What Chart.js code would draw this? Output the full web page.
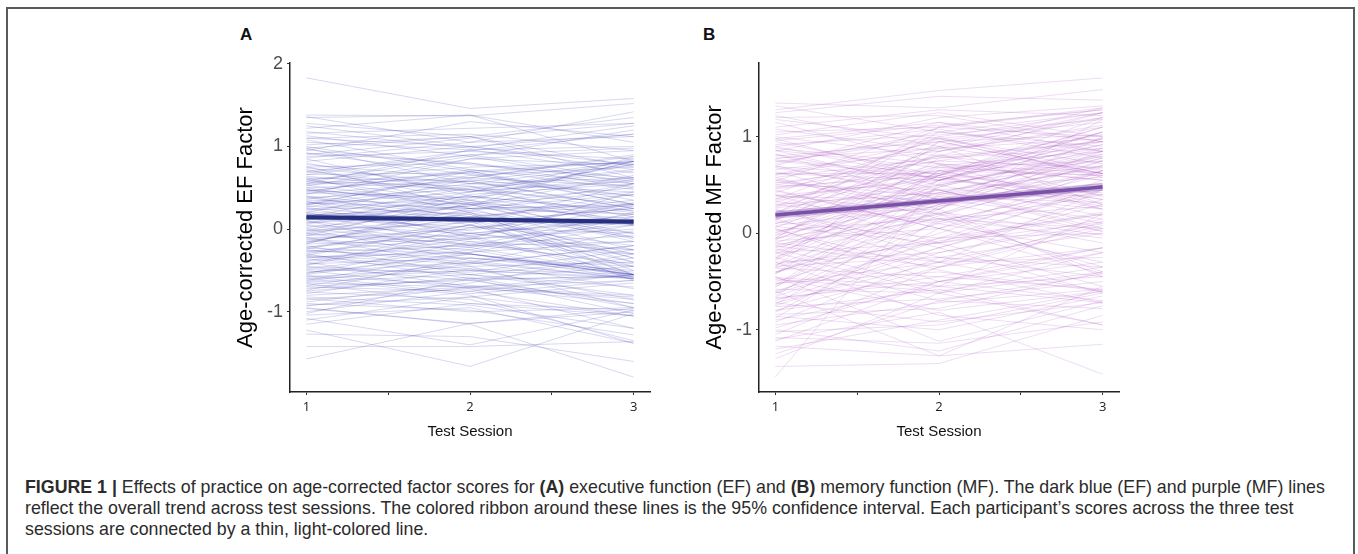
<!DOCTYPE html>
<html>
<head>
<meta charset="utf-8">
<script src="https://cdn.jsdelivr.net/npm/chart.js@4.4.0/dist/chart.umd.min.js"></script>
<style>
  html, body { margin: 0; padding: 0; background: #fff; }
  #page { position: relative; width: 1358px; height: 554px; overflow: hidden; font-family: "Liberation Sans", Arial, sans-serif; }
  #frame { position: absolute; left: 6px; top: 7px; width: 1349px; height: 620px; border: 2px solid #5a5a5a; box-sizing: border-box; }
  .letter { position: absolute; top: 26px; font-weight: bold; font-size: 17px; line-height: 17px; color: #111; }
  .box { position: absolute; top: 55px; width: 435px; height: 400px; }
  .cap { position: absolute; left: 25px; white-space: nowrap; font-size: 17.8px; line-height: 24px; color: #2b2b2b; }
</style>
</head>
<body>
<div id="page">
  <div id="frame"></div>
  <div class="letter" style="left:240px">A</div>
  <div class="letter" style="left:703px">B</div>
  <div class="box" style="left:225px"><canvas id="chartEF"></canvas></div>
  <div class="box" style="left:694px"><canvas id="chartMF"></canvas></div>
  <div class="cap" style="top:475px"><b>FIGURE 1 |</b> Effects of practice on age-corrected factor scores for <b>(A)</b> executive function (EF) and <b>(B)</b> memory function (MF). The dark blue (EF) and purple (MF) lines</div>
  <div class="cap" style="top:496px">reflect the overall trend across test sessions. The colored ribbon around these lines is the 95% confidence interval. Each participant’s scores across the three test</div>
  <div class="cap" style="top:517px">sessions are connected by a thin, light-colored line.</div>
</div>
<script>
const sessions = [1, 2, 3];
const xTickLabels = ['1', '2', '3'];
const efYTicks = [-1, 0, 1, 2];
const mfYTicks = [-1, 0, 1];

// overall trend and 95% ribbon, sessions 1-3
const efTrend = [0.145, 0.117, 0.09];
const efLower = [0.11, 0.09, 0.06];
const efUpper = [0.18, 0.145, 0.12];
const mfTrend = [0.19, 0.335, 0.48];
const mfLower = [0.15, 0.305, 0.44];
const mfUpper = [0.23, 0.365, 0.52];

// each participant: [session 1, session 2, session 3]
const efScores = [
  [1.83, 1.46, 1.58], [1.38, 1.37, 1.52], [1.36, 1.05, 1.42], [1.35, 1.38, 0.82], [1.28, 1.12, 1.35],
  [1.16, 1.22, 1.28], [1.13, 0.88, 1.2], [1.10, 1.15, 0.95], [1.08, 0.72, 0.55], [1.05, 0.96, 1.0],
  [1.02, 1.12, 0.62], [0.98, 0.55, 0.78], [0.95, 1.3, 1.12], [0.92, 0.66, 0.4], [0.88, 0.94, 0.85],
  [0.85, 0.4, 0.22], [0.82, 1.0, 0.72], [0.78, 0.62, 0.88], [0.75, 0.8, 0.5], [0.72, 0.35, -0.1],
  [0.7, 0.9, 0.98], [0.66, 0.68, 0.3], [0.64, 0.46, 0.58], [0.62, 0.2, -0.35], [0.6, 0.75, 0.8],
  [0.58, 0.52, 0.05], [0.55, 0.96, 0.68], [0.53, 0.3, 0.45], [0.5, 0.58, 0.82], [0.48, 0.12, -0.55],
  [0.46, 0.7, 0.35], [0.44, 0.38, 0.6], [0.42, 0.85, 0.78], [0.4, 0.05, -0.2], [0.38, 0.48, 0.15],
  [0.36, 0.62, 0.52], [0.34, -0.1, -0.58], [0.32, 0.25, 0.28], [0.3, 0.45, 0.85], [0.28, 0.18, -0.4],
  [0.27, 0.52, 0.22], [0.25, -0.05, 0.1], [0.23, 0.32, 0.5], [0.21, 0.1, -0.62], [0.2, 0.6, 0.4],
  [0.18, -0.2, -0.3], [0.16, 0.28, 0.65], [0.14, 0.02, -0.05], [0.12, 0.4, 0.2], [0.1, -0.3, -0.55],
  [0.08, 0.15, 0.35], [0.06, 0.35, 0.08], [0.04, -0.15, -0.45], [0.02, 0.22, 0.55], [0.0, -0.38, -0.6],
  [-0.02, 0.08, 0.25], [-0.04, 0.3, -0.12], [-0.06, -0.22, 0.1], [-0.08, 0.12, -0.35], [-0.1, -0.45, -0.95],
  [-0.12, 0.0, 0.3], [-0.14, -0.3, -0.6], [-0.16, 0.2, -0.1], [-0.18, -0.12, 0.45], [-0.2, -0.55, -0.8],
  [-0.22, -0.05, -0.25], [-0.24, 0.1, 0.05], [-0.26, -0.35, -0.55], [-0.28, -0.2, 0.2], [-0.3, -0.6, -1.02],
  [-0.32, 0.05, -0.4], [-0.34, -0.28, -0.15], [-0.36, -0.5, -0.58], [-0.38, -0.12, 0.0], [-0.4, -0.7, -0.9],
  [-0.42, -0.35, -0.5], [-0.44, -0.05, -0.3], [-0.46, -0.62, -0.56], [-0.48, -0.25, 0.15], [-0.5, -0.72, -1.2],
  [-0.52, -0.4, -0.6], [-0.54, -0.15, -0.25], [-0.56, -0.68, -0.85], [-0.58, -0.45, -0.4], [-0.6, -0.8, -1.38],
  [-0.62, -0.3, -0.55], [-0.64, -0.55, -0.7], [-0.66, -0.9, -0.98], [-0.68, -0.42, -0.2], [-0.7, -0.75, -1.05],
  [-0.72, -0.6, -0.58], [-0.74, -0.35, -0.45], [-0.76, -0.85, -1.35], [-0.8, -0.7, -0.62], [-0.84, -1.0, -0.95],
  [-0.88, -0.65, -0.3], [-0.92, -0.82, -1.05], [-0.96, -1.14, -1.0], [-1.0, -0.75, -0.55], [-1.04, -0.95, -1.38],
  [-1.08, -1.4, -0.98], [-1.1, -0.82, -0.65], [-1.22, -1.66, -1.02], [-1.27, -1.3, -1.6], [-1.42, -1.42, -1.36],
  [-1.57, -1.14, -0.96], [-0.95, -1.15, -1.79], [-0.9, -0.98, -1.28], [1.1, 1.0, 0.78], [0.96, 0.78, 0.62],
  [0.68, 0.95, 1.15], [0.57, 0.48, 0.7], [0.45, 0.72, 0.48], [0.35, 0.3, 0.12], [0.26, 0.08, 0.25],
  [0.15, 0.5, 0.72], [0.05, -0.05, 0.12], [-0.05, -0.18, -0.42], [-0.15, 0.15, 0.3], [-0.25, -0.4, -0.72],
  [-0.35, -0.18, -0.08], [-0.45, -0.55, -0.35], [-0.55, -0.28, 0.05], [-0.65, -0.7, -0.55], [0.62, 0.58, 0.25],
  [0.52, 0.85, 0.95], [0.4, 0.22, -0.05], [0.3, 0.55, 0.62], [0.17, 0.25, -0.25], [0.1, -0.12, 0.05],
  [-0.02, 0.42, 0.55], [-0.12, -0.25, -0.58], [-0.22, 0.05, -0.45], [-0.32, -0.42, -0.2], [1.22, 1.38, 1.05],
  [1.0, 0.7, 0.82], [0.8, 0.45, 0.78], [0.55, 0.68, 0.82], [0.48, 0.3, -0.15], [0.2, -0.08, -0.55],
  [-0.6, -0.5, -0.6], [-0.75, -0.58, -0.95], [-0.85, -0.72, -0.82], [-1.15, -0.9, -1.05], [0.7, 0.48, 0.3],
  [0.33, 0.12, 0.42], [-0.08, 0.38, 0.82], [-0.3, 0.05, 0.55], [1.18, 0.98, 1.25], [0.9, 1.1, 1.28],
  [0.92, 0.8, 0.58], [0.86, 1.05, 1.12], [0.74, 0.55, 0.45], [0.66, 0.9, 0.6], [0.6, 0.32, 0.18],
  [0.54, 0.62, 0.9], [0.5, 0.25, 0.3], [0.43, 0.58, 0.25], [0.38, 0.15, -0.3], [0.31, 0.65, 0.75],
  [0.24, 0.4, 0.05], [0.19, -0.02, 0.32], [0.13, 0.2, -0.5], [0.07, 0.45, 0.62], [0.01, -0.2, -0.15],
  [-0.05, 0.18, -0.55], [-0.1, -0.08, 0.18], [-0.17, 0.25, 0.42], [-0.23, -0.3, -0.52], [-0.27, -0.1, 0.28],
  [-0.33, -0.48, -0.85], [-0.39, -0.22, -0.55], [-0.43, 0.02, 0.15], [-0.49, -0.52, -0.25], [-0.53, -0.3, -0.55],
  [-0.57, -0.78, -0.62], [-0.63, -0.4, -0.02], [-0.69, -0.62, -0.9], [-0.78, -0.48, -0.55], [-0.82, -0.92, -1.2],
  [-0.93, -0.7, -0.8], [-1.02, -0.6, -0.45], [0.58, 0.88, 0.55], [0.47, 0.35, 0.82], [0.29, 0.7, 0.3],
  [0.11, 0.28, 0.88], [-0.18, 0.32, -0.05], [0.76, 0.25, 0.18], [0.98, 1.12, 0.75], [1.25, 1.0, 1.15]
];

const mfScores = [
  [1.28, 1.48, 1.61], [1.35, 1.3, 1.49], [1.32, 1.05, 1.25], [1.25, 1.42, 1.38], [1.22, 0.9, 1.3],
  [1.1, 1.28, 1.22], [1.05, 1.1, 1.0], [1.0, 0.8, 1.25], [0.98, 1.15, 0.85], [0.95, 0.6, 1.05],
  [0.92, 1.02, 1.18], [0.88, 0.72, 0.55], [0.85, 1.2, 1.32], [0.82, 0.5, 0.8], [0.8, 0.95, 0.62],
  [0.76, 0.62, 1.1], [0.72, 1.05, 0.9], [0.7, 0.35, 0.45], [0.66, 0.85, 1.2], [0.62, 0.55, 0.98],
  [0.6, 0.9, 0.3], [0.56, 0.3, 0.75], [0.52, 0.75, 1.02], [0.5, 0.45, 0.1], [0.46, 0.65, 0.88],
  [0.42, 0.98, 1.15], [0.4, 0.2, 0.6], [0.36, 0.58, 0.35], [0.32, 0.8, 0.95], [0.3, 0.1, -0.2],
  [0.26, 0.5, 0.82], [0.22, 0.7, 0.55], [0.2, 0.25, 1.0], [0.16, 0.62, 0.4], [0.12, -0.05, 0.2],
  [0.1, 0.42, 0.78], [0.06, 0.68, 0.6], [0.03, 0.15, -0.35], [0.0, 0.55, 0.92], [-0.02, 0.32, 0.02],
  [-0.05, 0.85, 1.1], [-0.08, 0.05, 0.45], [-0.1, -0.3, -0.6], [-0.14, 0.38, 0.7], [-0.18, 0.6, 0.25],
  [-0.2, -0.1, 0.5], [-0.24, 0.2, -0.4], [-0.28, 0.48, 0.85], [-0.3, -0.2, 0.15], [-0.33, 0.3, 0.62],
  [-0.36, -0.45, -0.15], [-0.4, 0.1, 0.4], [-0.42, 0.65, 0.3], [-0.46, -0.55, -0.72], [-0.5, 0.0, 0.55],
  [-0.52, -0.3, 0.08], [-0.55, 0.25, -0.45], [-0.58, -0.62, -0.2], [-0.62, -0.15, 0.35], [-0.65, 0.4, 0.82],
  [-0.68, -0.45, -0.58], [-0.72, -0.92, -0.72], [-0.75, -0.2, 0.1], [-0.8, -0.58, -0.95], [-0.82, 0.05, -0.3],
  [-0.86, -1.0, -0.65], [-0.9, -0.55, 0.2], [-0.95, -0.72, -0.58], [-1.0, -1.22, -0.75], [-1.05, -0.35, -0.15],
  [-1.08, -1.14, -0.92], [-1.1, -0.82, -1.46], [-1.17, -1.27, -1.15], [-1.3, -0.62, -0.4], [-1.38, -1.35, -0.85],
  [-1.49, 0.52, 0.7], [-1.2, -0.9, -0.6], [0.9, 1.08, 0.78], [0.78, 0.88, 1.25], [0.68, 0.4, 0.68],
  [0.58, 0.78, 0.88], [0.48, 0.6, 1.2], [0.38, 0.35, 0.15], [0.28, 0.88, 0.98], [0.18, 0.45, 0.02],
  [0.08, 0.28, 0.65], [-0.02, 0.7, 0.85], [-0.12, 0.15, -0.05], [-0.22, 0.55, 1.05], [-0.32, -0.1, -0.55],
  [-0.42, 0.35, 0.7], [-0.52, -0.4, -0.6], [-0.62, 0.12, 0.5], [-0.72, -0.3, -0.25], [1.15, 0.72, 0.62],
  [1.02, 1.25, 1.0], [0.86, 0.45, 0.05], [0.74, 0.98, 0.72], [0.64, 0.2, -0.1], [0.54, 1.1, 1.28],
  [0.44, 0.05, -0.42], [0.34, 0.65, 0.6], [0.24, -0.15, 0.3], [0.14, 0.82, 0.38], [0.04, -0.38, -0.72],
  [-0.06, 0.5, 0.18], [-0.16, -0.55, -0.45], [-0.26, 0.78, 0.95], [-0.36, 0.22, -0.02], [-0.46, -0.8, -0.6],
  [-0.56, 0.48, 0.88], [-0.66, -0.05, 0.0], [-0.76, -0.68, -0.5], [-0.88, 0.15, 0.28], [-0.98, -0.5, -0.3],
  [0.35, 1.0, 1.25], [0.15, 1.05, 0.85], [-0.05, 0.95, 0.62], [0.58, 0.15, 0.05], [0.82, 0.35, 0.4],
  [0.98, 0.55, 0.42], [1.18, 0.98, 0.65], [0.05, -0.5, -0.15], [-0.3, -0.85, -1.0], [-0.45, -1.12, -0.7],
  [-0.6, -1.27, -0.55], [-0.25, -0.7, -0.78], [0.25, -0.25, -0.35], [0.45, 0.05, 0.65], [-0.15, 0.25, 1.18],
  [0.62, 0.62, 0.98], [0.3, 0.42, 0.8], [-0.4, -0.05, 0.45], [-0.8, -0.35, 0.12], [-1.25, -0.7, -0.42],
  [0.75, 0.58, 0.28], [0.5, 0.8, 0.62], [0.1, 0.6, 1.1], [-0.1, 0.42, 0.25], [-0.7, -0.15, -0.62],
  [1.2, 1.22, 0.95], [1.08, 0.85, 1.12], [0.96, 1.12, 1.28], [0.86, 0.68, 0.75], [0.77, 1.0, 0.58],
  [0.69, 0.58, 0.85], [0.61, 0.95, 1.2], [0.53, 0.38, 0.32], [0.47, 0.75, 0.68], [0.39, 0.55, 0.92],
  [0.33, 0.12, 0.5], [0.27, 0.72, 0.25], [0.21, 0.35, 0.78], [0.13, 0.9, 0.62], [0.07, -0.1, 0.2],
  [0.01, 0.45, 0.58], [-0.07, 0.6, 0.95], [-0.13, -0.35, 0.05], [-0.19, 0.3, 0.52], [-0.27, 0.65, 0.35],
  [-0.34, -0.25, -0.45], [-0.41, 0.18, 0.65], [-0.48, -0.6, -0.35], [-0.54, 0.55, 0.75], [-0.6, -0.08, 0.22],
  [-0.67, -0.5, -0.7], [-0.74, 0.28, 0.48], [-0.84, -0.78, -0.4], [-0.92, -0.25, 0.0], [-1.02, -0.95, -0.62],
  [-1.12, -0.5, -0.2], [-0.35, 0.95, 1.02], [0.2, 1.1, 1.3], [0.55, 0.25, 0.85], [0.9, 0.55, 1.05],
  [-0.2, -0.62, -0.95], [0.4, -0.1, 0.12], [0.7, 1.15, 0.95], [-0.05, 0.2, 0.75], [0.15, -0.3, 0.45]
];

Chart.defaults.font.family = '"Liberation Sans", Arial, sans-serif';

function toPoints(values) {
  return sessions.map((s, i) => ({ x: s, y: values[i] }));
}

function makeChart(id, scores, trend, lower, upper, yTicks, yMin, yMax, title, thinColor, darkColor, ribbonColor, trendWidth) {
  const datasets = [
    { data: toPoints(trend), borderColor: darkColor, borderWidth: trendWidth, pointRadius: 0, fill: false, order: 0 },
    { data: toPoints(lower), borderWidth: 0, borderColor: 'rgba(0,0,0,0)', pointRadius: 0, fill: false, order: 1 },
    { data: toPoints(upper), borderWidth: 0, borderColor: 'rgba(0,0,0,0)', backgroundColor: ribbonColor, pointRadius: 0, fill: 1, order: 1 }
  ];
  scores.forEach(p => {
    datasets.push({ data: toPoints(p), borderColor: thinColor, borderWidth: 0.8, pointRadius: 0, fill: false, order: 2 });
  });

  return new Chart(document.getElementById(id), {
    type: 'line',
    data: { datasets: datasets },
    options: {
      responsive: true,
      maintainAspectRatio: false,
      animation: false,
      events: [],
      layout: { padding: { top: 8, right: 10, bottom: 0, left: 0 } },
      plugins: { legend: { display: false }, tooltip: { enabled: false } },
      elements: { line: { tension: 0 } },
      scales: {
        x: {
          type: 'linear',
          min: 0.9,
          max: 3.1,
          afterBuildTicks: s => { s.ticks = [1, 1.5, 2, 2.5, 3].map(v => ({ value: v })); },
          afterFit: s => { s.height = 63; s.paddingLeft = 0; s.paddingRight = 0; },
          ticks: {
            autoSkip: false,
            maxRotation: 0,
            padding: 4,
            color: '#222',
            font: { family: '"Open Sans", sans-serif', size: 13 },
            callback: v => Number.isInteger(v) ? xTickLabels[v - 1] : ''
          },
          grid: { drawOnChartArea: false, drawTicks: true, tickLength: 3, color: '#333' },
          border: { display: true, color: '#222', width: 1.5 },
          title: { display: true, text: 'Test Session', color: '#111', font: { size: 15 }, padding: { top: 0, bottom: 14 } }
        },
        y: {
          min: yMin,
          max: yMax,
          afterBuildTicks: s => { s.ticks = yTicks.map(v => ({ value: v })); },
          afterFit: s => { s.width = 65; s.paddingTop = 0; s.paddingBottom = 0; },
          ticks: { padding: 4, color: '#4d4d4d', font: { size: 18 } },
          grid: { drawOnChartArea: false, drawTicks: true, tickLength: 3, color: '#333' },
          border: { display: true, color: '#222', width: 1.5 },
          title: { display: true, text: title, color: '#000', font: { size: 22 }, padding: { top: 8, bottom: 0 } }
        }
      }
    }
  });
}

makeChart('chartEF', efScores, efTrend, efLower, efUpper, efYTicks, -1.97, 2.01,
  'Age-corrected EF Factor', 'rgba(60,60,180,0.25)', '#262f80', 'rgba(38,47,128,0.35)', 4);
makeChart('chartMF', mfScores, mfTrend, mfLower, mfUpper, mfYTicks, -1.645, 1.765,
  'Age-corrected MF Factor', 'rgba(170,85,195,0.25)', '#7a50a8', 'rgba(122,80,168,0.35)', 3.5);
</script>
</body>
</html>
